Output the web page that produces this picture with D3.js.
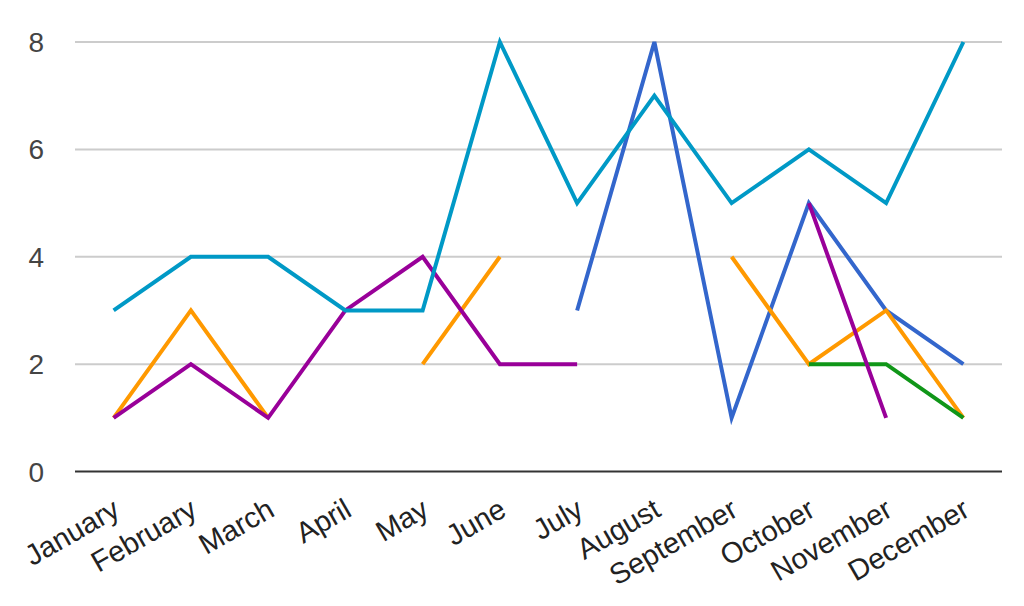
<!DOCTYPE html>
<html>
<head>
<meta charset="utf-8">
<script src="https://cdn.jsdelivr.net/npm/d3@7"></script>
<style>
  html, body { margin: 0; padding: 0; background: #fff; }
  svg { display: block; font-family: "Liberation Sans", Arial, sans-serif; }
</style>
</head>
<body>
<svg id="chart" width="1024" height="606"></svg>
<script>
const months = ["January","February","March","April","May","June","July","August","September","October","November","December"];
const yTicks = [0, 2, 4, 6, 8];
// series values (null = gap)
const blueValues   = [null, null, null, null, null, null, 3, 8, 1, 5, 3, 2];
const orangeValues = [1, 3, 1, null, 2, 4, null, null, 4, 2, 3, 1];
const greenValues  = [null, null, null, null, null, null, null, null, null, 2, 2, 1];
const purpleValues = [1, 2, 1, 3, 4, 2, 2, null, null, 5, 1, null];
const cyanValues   = [3, 4, 4, 3, 3, 8, 5, 7, 5, 6, 5, 8];

const series = [
  { values: blueValues,   color: "#3366cc" },
  { values: orangeValues, color: "#ff9900" },
  { values: greenValues,  color: "#109618" },
  { values: purpleValues, color: "#990099" },
  { values: cyanValues,   color: "#0099c6" }
];

const svg = d3.select("#chart");
const plotLeft = 75, plotRight = 1002, plotTop = 42, plotBottom = 471.5;

const x = d3.scaleBand().domain(months).range([plotLeft, plotRight]);
const y = d3.scaleLinear().domain([0, 8]).range([plotBottom, plotTop]);
const cx = m => x(m) + x.bandwidth() / 2;

// gridlines
svg.append("g").selectAll("line")
  .data(yTicks.filter(t => t !== 0))
  .join("line")
  .attr("x1", plotLeft).attr("x2", plotRight)
  .attr("y1", d => y(d)).attr("y2", d => y(d))
  .attr("stroke", "#cccccc").attr("stroke-width", 2);

// y labels
svg.append("g").selectAll("text")
  .data(yTicks)
  .join("text")
  .attr("x", 44).attr("y", d => y(d))
  .attr("dy", "0.36em")
  .attr("text-anchor", "end")
  .attr("font-size", 28)
  .attr("fill", "#444444")
  .text(d => d);

// lines
const line = d3.line()
  .defined(d => d.v !== null)
  .x(d => cx(d.m))
  .y(d => y(d.v));

svg.append("g").selectAll("path")
  .data(series)
  .join("path")
  .attr("d", s => line(s.values.map((v, i) => ({ m: months[i], v }))))
  .attr("fill", "none")
  .attr("stroke", s => s.color)
  .attr("stroke-width", 4)
  .attr("stroke-linejoin", "miter");

// baseline
svg.append("line")
  .attr("x1", plotLeft).attr("x2", plotRight)
  .attr("y1", y(0)).attr("y2", y(0))
  .attr("stroke", "#333333").attr("stroke-width", 2);

// x labels
svg.append("g").selectAll("text")
  .data(months)
  .join("text")
  .attr("transform", d => `translate(${cx(d) + 8},515) rotate(-30)`)
  .attr("text-anchor", "end")
  .attr("font-size", 29)
  .attr("fill", "#222222")
  .text(d => d);
</script>
</body>
</html>
